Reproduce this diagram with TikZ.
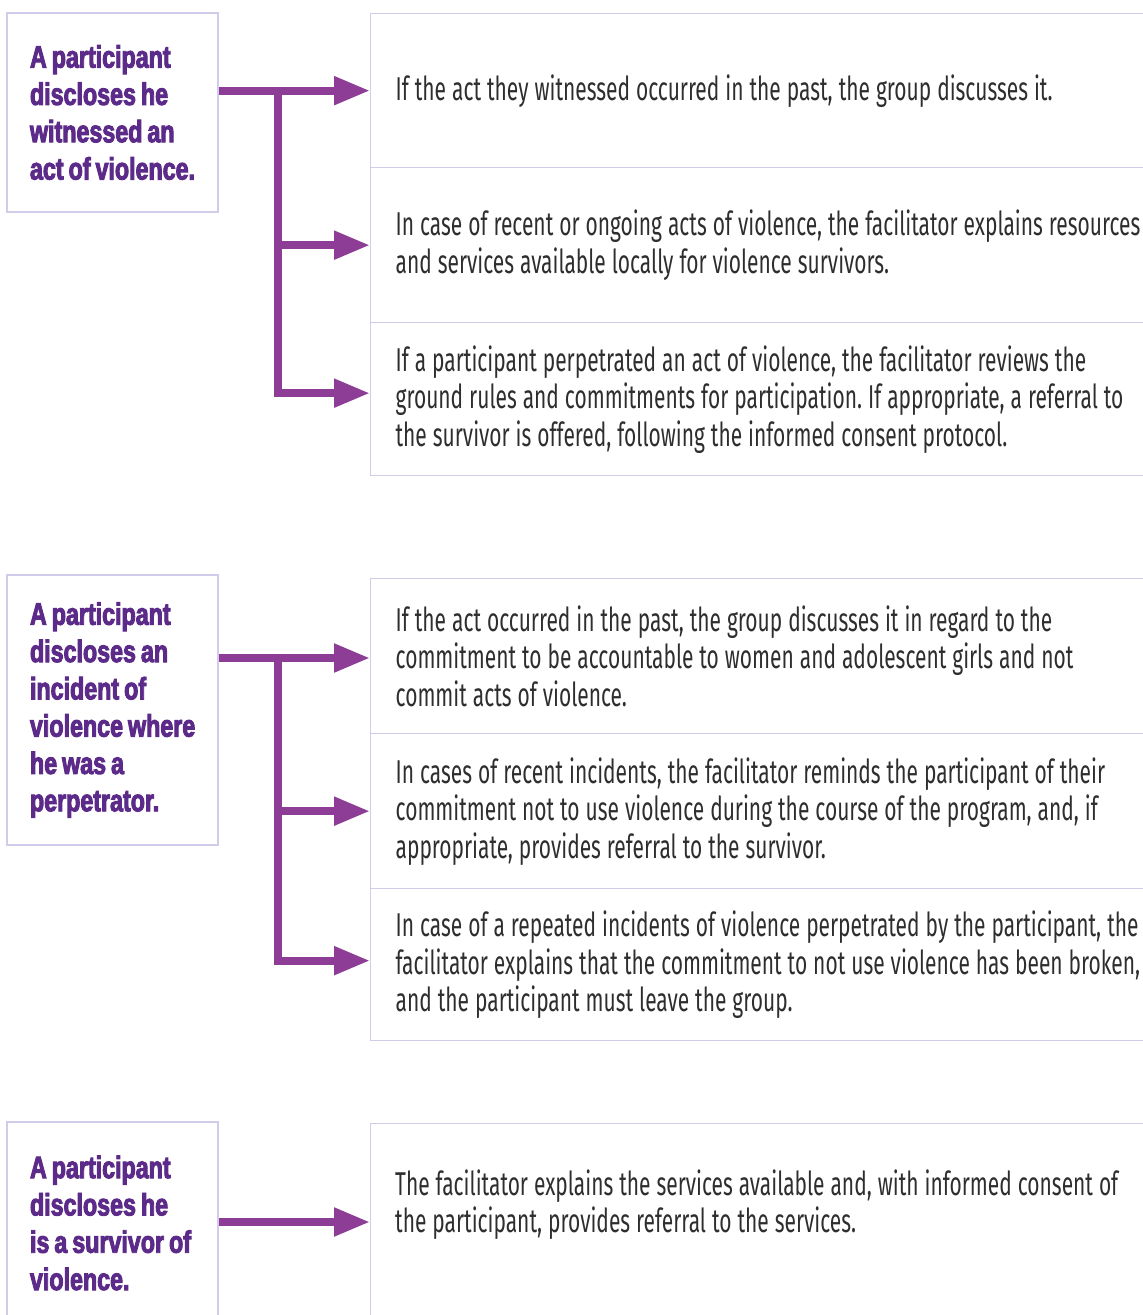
\documentclass[tikz,border=0pt]{standalone}
\usepackage{fontspec}
\setmainfont{Fira Sans}[FakeStretch=0.635]
\newfontfamily\leftfam{Liberation Sans}[FakeStretch=0.75, FakeBold=3]
\usetikzlibrary{arrows.meta}
\definecolor{boxc}{HTML}{D2CCEA}
\definecolor{arrc}{HTML}{8E3D97}
\definecolor{headc}{HTML}{5C2A88}
\definecolor{bodyc}{HTML}{2E2E2E}
\frenchspacing
\hbadness=10000
\hfuzz=100pt
\begin{document}
\begin{tikzpicture}[x=1pt,y=-1pt,
  leftbox/.style={draw=boxc, line width=1.3pt, minimum width=211pt, text width=165pt,
    inner xsep=23pt, align=left, font=\leftfam\bfseries\fontsize{31}{37.3}\selectfont, text=headc,
    execute at begin node={\frenchspacing\spaceskip=5pt plus 2pt\relax\hyphenpenalty=10000\relax}},
  rightbox/.style={draw=boxc, line width=1.3pt, minimum width=790pt, text width=850pt,
    inner xsep=25pt, align=left, font=\fontsize{33}{37.5}\selectfont, text=bodyc, anchor=north west,
    execute at begin node={\frenchspacing\spaceskip=6pt plus 2pt\relax\hyphenpenalty=10000\relax}},
  bodytext/.style={text width=850pt, align=left, font=\fontsize{33}{37.5}\selectfont, text=bodyc, inner xsep=0pt,
    execute at begin node={\frenchspacing\spaceskip=6pt plus 2pt\relax\hyphenpenalty=10000\relax}},
  conn/.style={draw=arrc, line width=8pt},
  tip/.style={-{Triangle[length=36pt,width=27pt]}}
]
\useasboundingbox (0,0) rectangle (1143,1315);
\clip (0,0) rectangle (1143,1315);
\fill[white] (0,0) rectangle (1143,1315);

% group 1
\node[leftbox, minimum height=199pt] (l1) at (112.5,112.5) {A~participant\\discloses~he\\witnessed~an\\act~of~violence.};
\node[rightbox, minimum height=154pt] (r11) at (370,13) {If the act they witnessed occurred in the past, the group discusses it.};
\node[rightbox, minimum height=155pt] (r12) at (370,167) {In case of recent or ongoing acts of violence, the facilitator explains resources\\and services available locally for violence survivors.};
\node[rightbox, minimum height=153pt] (r13) at (370,322) {If a participant perpetrated an act of violence, the facilitator reviews the\\ground rules and commitments for participation. If appropriate, a referral to\\the survivor is offered, following the informed consent protocol.};
\coordinate (j1) at (278,90);
\draw[conn,tip] (l1.east |- r11.west) -- (r11.west);
\draw[conn,tip] (j1 |- r12.west) -- (r12.west);
\draw[conn,tip] (j1) |- ([yshift=6pt]r13.west);

% group 2
\node[leftbox, minimum height=270pt] (l2) at (112.5,710) {A~participant\\discloses~an\\incident~of\\violence~where\\he~was~a\\perpetrator.};
\node[rightbox, minimum height=155pt] (r21) at (370,578) {If the act occurred in the past, the group discusses it in regard to the\\commitment to be accountable to women and adolescent girls and not\\commit acts of violence.};
\node[rightbox, minimum height=155pt] (r22) at (370,733) {In cases of recent incidents, the facilitator reminds the participant of their\\commitment not to use violence during the course of the program, and, if\\appropriate, provides referral to the survivor.};
\node[rightbox, minimum height=152pt] (r23) at (370,888) {In case of a repeated incidents of violence perpetrated by the participant, the\\facilitator explains that the commitment to not use violence has been broken,\\and the participant must leave the group.};
\coordinate (j2) at (278,658);
\draw[conn,tip] (l1.east |- j2) -- (r21.west |- j2);
\draw[conn,tip] (j2 |- r22.west) -- (r22.west);
\draw[conn,tip] (j2) |- ([yshift=4pt]r23.west);

% group 3
\node[leftbox, minimum height=202pt] (l3) at (112.5,1223) {A~participant\\discloses~he\\is~a~survivor~of\\violence.};
\node[draw=boxc, line width=1.3pt, minimum width=790pt, minimum height=260pt, anchor=north west] (r31) at (370,1123) {};
\node[bodytext, anchor=west] (t31) at (395,1204.5) {The facilitator explains the services available and, with informed consent of\\the participant, provides referral to the services.};
\coordinate (j3) at (278,1222);
\draw[conn,tip] (l3.east |- j3) -- (r31.west |- j3);
\end{tikzpicture}
\end{document}
